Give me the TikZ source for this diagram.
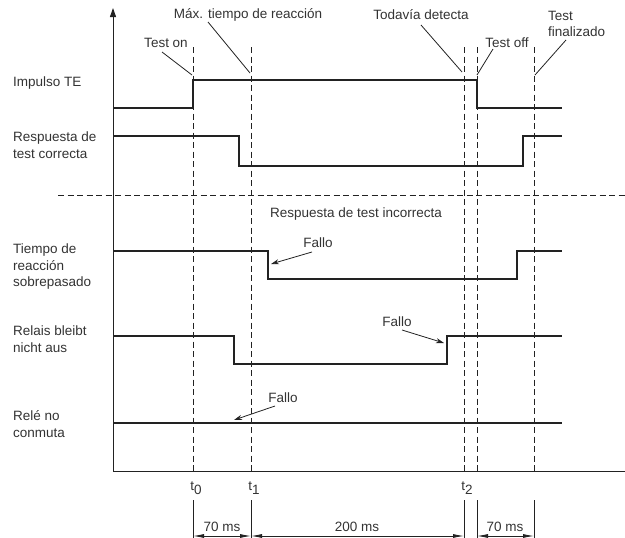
\documentclass[tikz,border=0pt]{standalone}
\usepackage{fontspec}
\setmainfont{Liberation Sans}
\usetikzlibrary{arrows.meta}
\definecolor{ink}{HTML}{222222}
\definecolor{txt}{HTML}{333333}
\begin{document}
\begin{tikzpicture}[x=1pt,y=-1pt,
  sig/.style={line width=2pt, draw=ink, line join=miter},
  gridline/.style={line width=0.9pt, draw=ink, dash pattern=on 6pt off 3.5pt},
  lbl/.style={font=\fontsize{13.5}{16.5}\selectfont, text=txt, inner sep=0pt},
  lead/.style={line width=0.8pt, draw=ink},
  ax/.style={line width=1pt, draw=ink},
  ext/.style={line width=0.9pt, draw=ink},
  dimarrow/.style={line width=0.8pt, draw=ink, {Latex[length=11pt,width=4pt]}-{Latex[length=11pt,width=4pt]}},
  fallarrow/.style={line width=0.8pt, draw=ink, -{Stealth[length=8pt,width=5pt]}}
]
\useasboundingbox (0,0) rectangle (625,538);

% axes
\coordinate (O) at (113,471);
\coordinate (Ytop) at (113,8);
\coordinate (Xend) at (625,471);
\draw[ax, -{Triangle[length=9pt,width=6pt]}] (O) -- (Ytop);
\draw[ax] (O) -- (Xend);

% time markers
\foreach \n/\x in {t0/193, t1/251, t2/464, toff/477, tfin/534} {
  \coordinate (\n top) at (\x,47);
  \coordinate (\n bot) at (\x,471);
  \coordinate (\n e1) at (\x,500);
  \coordinate (\n e2) at (\x,540);
  \draw[gridline] (\n top) -- (\n bot);
  \draw[ext] (\n e1) -- (\n e2);
}

% separator
\coordinate (sepL) at (58,195);
\coordinate (sepR) at (625,195);
\draw[gridline] (sepL) -- (sepR);

% signals
\draw[sig] (113,108) -- (193,108) -- (193,80) -- (477,80) -- (477,108) -- (562,108);
\draw[sig] (113,136) -- (239,136) -- (239,166) -- (523,166) -- (523,136) -- (562,136);
\draw[sig] (113,251) -- (268,251) -- (268,279) -- (517,279) -- (517,251) -- (562,251);
\draw[sig] (113,336) -- (234,336) -- (234,364) -- (447,364) -- (447,336) -- (562,336);
\draw[sig] (113,423) -- (562,423);

% left labels
\node[lbl, anchor=west, align=left] (l1) at (13,83) {Impulso TE};
\node[lbl, anchor=west, align=left] (l2) at (13,145) {Respuesta de\\test correcta};
\node[lbl, anchor=west, align=left] (l3) at (13,267) {Tiempo de\\reacción\\sobrepasado};
\node[lbl, anchor=west, align=left] (l4) at (13,339) {Relais bleibt\\nicht aus};
\node[lbl, anchor=west, align=left] (l5) at (13,424) {Relé no\\conmuta};

% top labels
\node[lbl] (maxt) at (248,15) {Máx. tiempo de reacción};
\node[lbl] (todav) at (421,15) {Todavía detecta};
\node[lbl] (ton) at (166,43) {Test on};
\node[lbl] (toffl) at (507,43) {Test off};
\node[lbl, anchor=west, align=left] (tfinl) at (548,24) {Test\\finalizado};

\coordinate (ton a) at (162,52);   \coordinate (ton b) at (192,75);
\coordinate (maxt a) at (208,22);  \coordinate (maxt b) at (250,73);
\coordinate (tod a) at (421,25);   \coordinate (tod b) at (462,72);
\coordinate (toff a) at (493,49);  \coordinate (toff b) at (477,75);
\coordinate (tfin a) at (566,40);  \coordinate (tfin b) at (535,75);
\draw[lead] (ton a) -- (ton b);
\draw[lead] (maxt a) -- (maxt b);
\draw[lead] (tod a) -- (tod b);
\draw[lead] (toff a) -- (toff b);
\draw[lead] (tfin a) -- (tfin b);

% middle label
\node[lbl] (incor) at (356,214) {Respuesta de test incorrecta};

% Fallo labels
\node[lbl] (f1) at (318,243) {Fallo};
\node[lbl] (f2) at (397,322) {Fallo};
\node[lbl] (f3) at (283,398) {Fallo};
\coordinate (f1a) at (312,252); \coordinate (f1b) at (271,264);
\coordinate (f2a) at (402,330); \coordinate (f2b) at (444,343);
\coordinate (f3a) at (275,406); \coordinate (f3b) at (234,420);
\draw[fallarrow] (f1a) -- (f1b);
\draw[fallarrow] (f2a) -- (f2b);
\draw[fallarrow] (f3a) -- (f3b);

% time labels
\node[lbl] (lt0) at (196,488) {t\raisebox{-4pt}{0}};
\node[lbl] (lt1) at (254,488) {t\raisebox{-4pt}{1}};
\node[lbl] (lt2) at (467,488) {t\raisebox{-4pt}{2}};

% dimensions
\coordinate (d0) at (193,536);
\coordinate (d1) at (251,536);
\coordinate (d2) at (464,536);
\coordinate (d3) at (477,536);
\coordinate (d4) at (534,536);
\draw[dimarrow] (d0) -- (d1);
\draw[dimarrow] (d1) -- (d2);
\draw[dimarrow] (d3) -- (d4);
\node[lbl] (m1) at (222,527) {70 ms};
\node[lbl] (m2) at (357,527) {200 ms};
\node[lbl] (m3) at (505,527) {70 ms};
\end{tikzpicture}
\end{document}
